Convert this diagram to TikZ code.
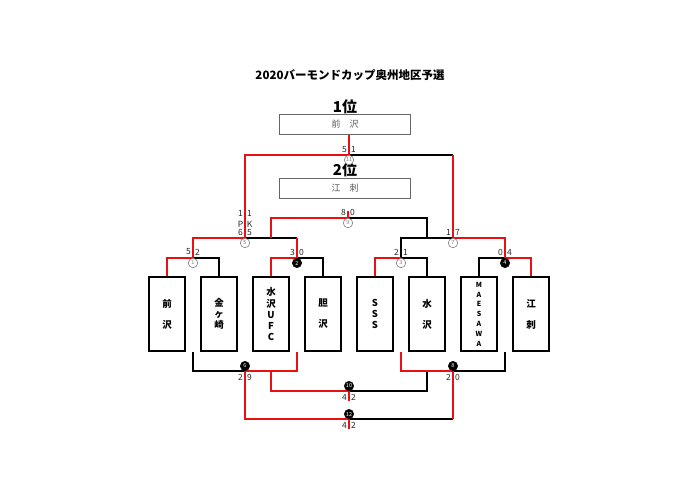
\documentclass[tikz,border=0pt]{standalone}
\usepackage{fontspec}
\usetikzlibrary{calc}
\setmainfont{Noto Sans CJK JP}
\definecolor{wred}{RGB}{232,16,16}
\begin{document}
\begin{tikzpicture}[x=1pt,y=1pt,
 ln/.style={line width=1.8pt, line join=miter},
 rd/.style={ln, draw=wred},
 bk/.style={ln, draw=black},
 team/.style={draw, line width=1.6pt, minimum width=36pt, minimum height=74pt, inner sep=0pt, align=center, font=\bfseries\fontsize{9.5}{11}\selectfont},
 rankbox/.style={draw=black!60, line width=0.8pt, minimum width=131pt, minimum height=20pt, font=\fontsize{9}{10}\selectfont, text=black!65},
 ranklab/.style={font=\bfseries\fontsize{15}{15}\selectfont},
 sc/.style={font=\fontsize{8.5}{8.5}\selectfont, text=black!85, inner sep=0pt},
 oddc/.style={circle, draw=gray, line width=0.6pt, fill=white, minimum size=9.5pt, inner sep=0pt, font=\fontsize{5.5}{5.5}\selectfont, text=gray},
 evenc/.style={circle, draw=black, fill=black, minimum size=9.5pt, inner sep=0pt, font=\fontsize{5.5}{5.5}\selectfont, text=white}
]
\useasboundingbox (0,0) rectangle (700,-495);

% title and ranks
\node[font=\bfseries\fontsize{11.5}{12}\selectfont] (title) at (350,-75) {2020バーモンドカップ奥州地区予選};
\node[ranklab] (r1) at (345,-107) {1位};
\node[rankbox] (first) at (345,-124.5) {前\hspace{9pt}沢};
\node[ranklab] (r2) at (345,-170) {2位};
\node[rankbox] (second) at (345,-188) {江\hspace{9pt}刺};

% teams
\node[team] (t1) at (167,-314) {前\\[10pt]沢};
\node[team] (t2) at (219,-314) {金\\ヶ\\崎};
\node[team] (t3) at (271,-314) {水\\沢\\U\\F\\C};
\node[team] (t4) at (323,-314) {胆\\[10pt]沢};
\node[team] (t5) at (375,-314) {S\\S\\S};
\node[team] (t6) at (427,-314) {水\\[10pt]沢};
\node[team, font=\bfseries\fontsize{7}{9.8}\selectfont] (t7) at (479,-314) {M\\A\\E\\S\\A\\W\\A};
\node[team] (t8) at (531,-314) {江\\[10pt]刺};

% match points
\coordinate (m1) at (193,-258);
\coordinate (m2) at (297,-258);
\coordinate (m3) at (401,-258);
\coordinate (m4) at (505,-258);
\coordinate (m5) at (245,-238);
\coordinate (m7) at (453,-238);
\coordinate (m9) at (348,-218);
\coordinate (m11) at (349,-155);
\coordinate (m6) at (245,-371);
\coordinate (m8) at (453,-371);
\coordinate (m10) at (349,-391);
\coordinate (m12) at (349,-419);

% black lines
\draw[bk] (m1) -| (t2.north);
\draw[bk] (m2) -| (t4.north);
\draw[bk] (m3) -| (t6.north);
\draw[bk] (t7.north) |- (m4);
\draw[bk] (m5) -- (m2 |- m5);
\draw[bk] (m3) |- (m7);
\draw[bk] (m9) -| (t6.north |- m7);
\draw[bk] (m11) -- (m7 |- m11);
\draw[bk] (m1 |- t1.south) |- (m6);
\draw[bk] (m8) -| (m4 |- t8.south);
\draw[bk] (m10) -| (t6.south |- m8);
\draw[bk] (m12) -- (m8 |- m12);

% red lines
\draw[rd] (t1.north) |- (m1);
\draw[rd] (t3.north) |- (m2);
\draw[rd] (t5.north) |- (m3);
\draw[rd] (m4) -| (t8.north);
\draw[rd] (m1) |- (m5);
\draw[rd] (m2 |- m5) -- (m2);
\draw[rd] (m5) |- (m11);
\draw[rd] (m11) -- (m11 |- first.south);
\draw[rd] (m7) -| (m4);
\draw[rd] (m7 |- m11) -- (m7);
\draw[rd] (t3.north |- m5) |- (m9);
\draw[rd] (m9) -- ++(0,7);
\draw[rd] (m6) -| (m2 |- t4.south);
\draw[rd] (t3.south |- m6) |- (m10);
\draw[rd] (m10) -- ++(0,-10);
\draw[rd] (m6) |- (m12);
\draw[rd] (m12) -- ++(0,-10);
\draw[rd] (m3 |- t5.south) |- (m8);
\draw[rd] (m8 |- m12) -- (m8);

% scores
\node[sc] (s1a) at ($(m1)+(-4.5,6)$) {5}; \node[sc] (s1b) at ($(m1)+(4.5,6)$) {2};
\node[sc] (s2a) at ($(m2)+(-4.5,6)$) {3}; \node[sc] (s2b) at ($(m2)+(4.5,6)$) {0};
\node[sc] (s3a) at ($(m3)+(-4.5,6)$) {2}; \node[sc] (s3b) at ($(m3)+(4.5,6)$) {1};
\node[sc] (s4a) at ($(m4)+(-4.5,6)$) {0}; \node[sc] (s4b) at ($(m4)+(4.5,6)$) {4};
\node[sc] (s5a) at ($(m5)+(-4.5,5.5)$) {6}; \node[sc] (s5b) at ($(m5)+(4.5,5.5)$) {5};
\node[sc] (s5c) at ($(m5)+(-4.5,13.5)$) {P}; \node[sc] (s5d) at ($(m5)+(4.5,13.5)$) {K};
\node[sc] (s5e) at ($(m5)+(-4.5,24.5)$) {1}; \node[sc] (s5f) at ($(m5)+(4.5,24.5)$) {1};
\node[sc] (s7a) at ($(m7)+(-4.5,5.5)$) {1}; \node[sc] (s7b) at ($(m7)+(4.5,5.5)$) {7};
\node[sc] (s9a) at ($(m9)+(-4.5,5.5)$) {8}; \node[sc] (s9b) at ($(m9)+(4.5,5.5)$) {0};
\node[sc] (s11a) at ($(m11)+(-4.5,5.5)$) {5}; \node[sc] (s11b) at ($(m11)+(4.5,5.5)$) {1};
\node[sc] (s6a) at ($(m6)+(-4.5,-6)$) {2}; \node[sc] (s6b) at ($(m6)+(4.5,-6)$) {9};
\node[sc] (s8a) at ($(m8)+(-4.5,-6)$) {2}; \node[sc] (s8b) at ($(m8)+(4.5,-6)$) {0};
\node[sc] (s10a) at ($(m10)+(-4.5,-6)$) {4}; \node[sc] (s10b) at ($(m10)+(4.5,-6)$) {2};
\node[sc] (s12a) at ($(m12)+(-4.5,-6)$) {4}; \node[sc] (s12b) at ($(m12)+(4.5,-6)$) {2};

% match numbers
\node[oddc] (c1) at ($(m1)+(0,-5)$) {1};
\node[evenc] (c2) at ($(m2)+(0,-5)$) {2};
\node[oddc] (c3) at ($(m3)+(0,-5)$) {3};
\node[evenc] (c4) at ($(m4)+(0,-5)$) {4};
\node[oddc] (c5) at ($(m5)+(0,-5)$) {5};
\node[oddc] (c7) at ($(m7)+(0,-5)$) {7};
\node[oddc] (c9) at ($(m9)+(0,-5)$) {9};
\node[oddc] (c11) at ($(m11)+(0,-5)$) {11};
\node[evenc] (c6) at ($(m6)+(0,5)$) {6};
\node[evenc] (c8) at ($(m8)+(0,5)$) {8};
\node[evenc] (c10) at ($(m10)+(0,5)$) {10};
\node[evenc] (c12) at ($(m12)+(0,5)$) {12};
\end{tikzpicture}
\end{document}
